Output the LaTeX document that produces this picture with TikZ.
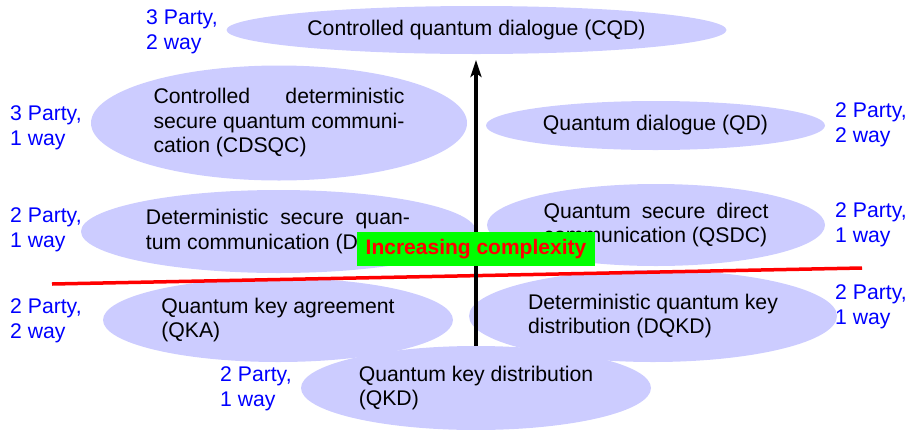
\documentclass[tikz,border=0pt]{standalone}
\usepackage{fontspec}
\setmainfont{Liberation Sans}
\usetikzlibrary{shapes.geometric,arrows.meta}
% a justified line of a given width (interword spaces stretched)
\newcommand\fulline[2]{\makebox[#1][s]{\spaceskip=0pt\xspaceskip=0pt #2}}
\begin{document}
\begin{tikzpicture}[x=1pt,y=-1pt,
  every node/.style={font=\fontsize{21.2}{24.5}\selectfont},
  proto/.style={ellipse,fill=blue!20,inner sep=0pt,align=left},
  partylabel/.style={text=blue,anchor=west,inner sep=0pt,align=left},
  axisarrow/.style={line width=3.5pt,-{Stealth[length=17pt,width=11pt,inset=4pt]}},
  divider/.style={red,line width=3.5pt},
  tag/.style={fill=green,text=red,font=\fontsize{21}{25}\selectfont\bfseries,
              minimum width=238pt,minimum height=34pt,inner sep=0pt}]
\useasboundingbox (0,0) rectangle (907,429);

% protocol families
\node[proto,minimum width=500pt,minimum height=48pt] (CQD) at (476.5,30)
  {Controlled quantum dialogue (CQD)};
\node[proto,minimum width=376pt,minimum height=115pt] (CDSQC) at (279,123)
  {\fulline{251pt}{Controlled deterministic}\\
   \fulline{251pt}{secure quantum communi-}\\
   cation (CDSQC)};
\node[proto,minimum width=339pt,minimum height=49pt] (QD) at (655.5,125.5)
  {Quantum dialogue (QD)};
\node[proto,minimum width=395pt,minimum height=83pt] (DSQC) at (278.5,231.5)
  {\fulline{264pt}{Deterministic secure quan-}\\
   tum communication (DSQC)};
\node[proto,minimum width=338pt,minimum height=82pt] (QSDC) at (656,225)
  {\fulline{225pt}{Quantum secure direct}\\
   communication (QSDC)};
\node[proto,minimum width=350pt,minimum height=84pt] (QKA) at (278,320)
  {Quantum key agreement\\(QKA)};
\node[proto,minimum width=368pt,minimum height=92pt] (DQKD) at (653,316)
  {Deterministic quantum key\\distribution (DQKD)};
\node[proto,minimum width=350pt,minimum height=84pt] (QKD) at (476,388)
  {Quantum key distribution\\(QKD)};

% party / direction labels
\node[partylabel] (l1) at (146,32)  {3 Party,\\2 way};
\node[partylabel] (l2) at (10,128)  {3 Party,\\1 way};
\node[partylabel] (l3) at (835,125) {2 Party,\\2 way};
\node[partylabel] (l4) at (10,230)  {2 Party,\\1 way};
\node[partylabel] (l5) at (835,225) {2 Party,\\1 way};
\node[partylabel] (l6) at (10,321)  {2 Party,\\2 way};
\node[partylabel] (l7) at (835,307) {2 Party,\\1 way};
\node[partylabel] (l8) at (220,389) {2 Party,\\1 way};

% dividing line between key distribution and direct communication
\coordinate (divL) at (52,284);
\coordinate (divR) at (862,268);
\draw[divider] (divL) -- (divR);

% complexity axis
\coordinate (top) at (476,60);
\draw[axisarrow] (QKD.north) -- (top);
\node[tag] (cx) at (476,249) {Increasing complexity};
\end{tikzpicture}
\end{document}
